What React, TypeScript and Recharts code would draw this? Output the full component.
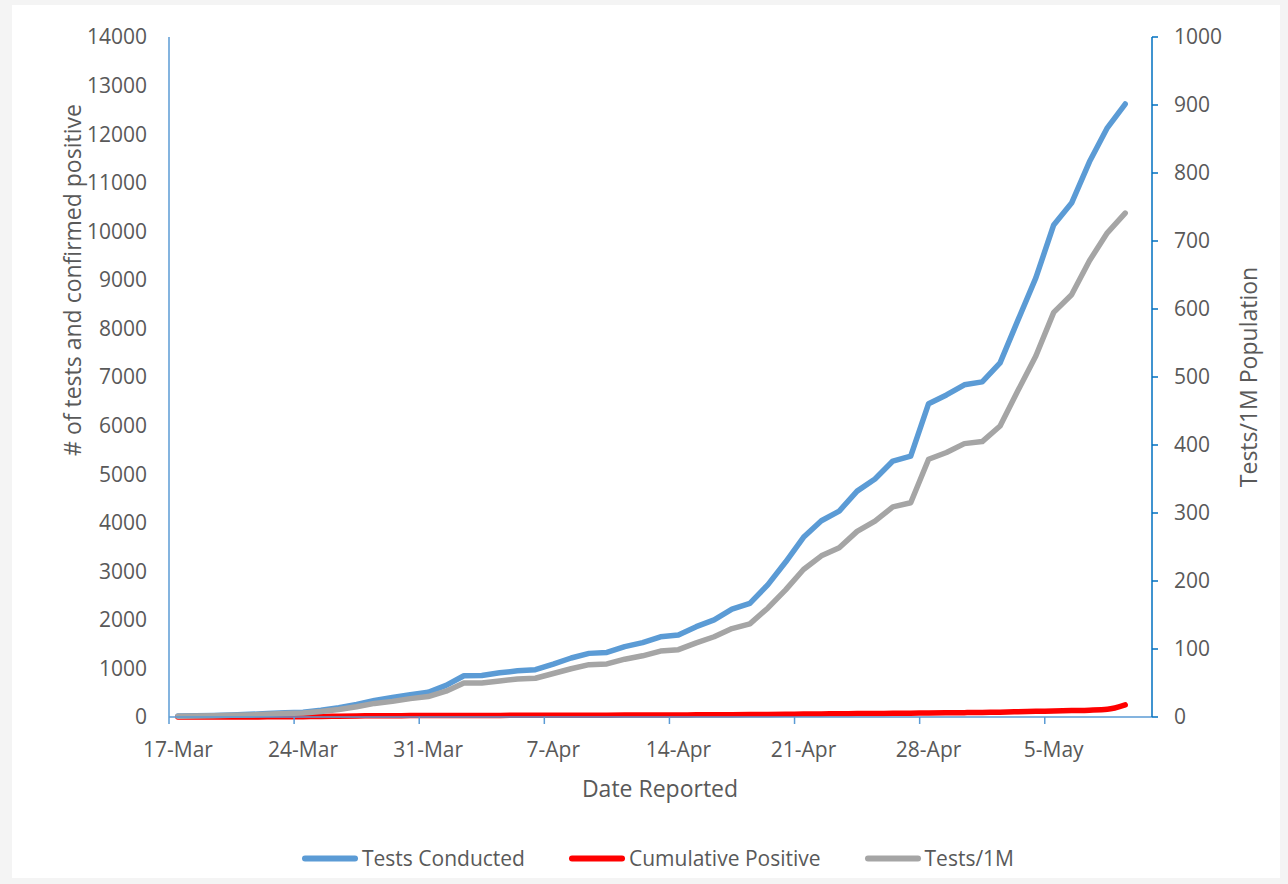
import React from 'react';
import { LineChart, Line, XAxis, YAxis } from 'recharts';

const dates = [
  '17-Mar','18-Mar','19-Mar','20-Mar','21-Mar','22-Mar','23-Mar','24-Mar','25-Mar','26-Mar',
  '27-Mar','28-Mar','29-Mar','30-Mar','31-Mar','1-Apr','2-Apr','3-Apr','4-Apr','5-Apr',
  '6-Apr','7-Apr','8-Apr','9-Apr','10-Apr','11-Apr','12-Apr','13-Apr','14-Apr','15-Apr',
  '16-Apr','17-Apr','18-Apr','19-Apr','20-Apr','21-Apr','22-Apr','23-Apr','24-Apr','25-Apr',
  '26-Apr','27-Apr','28-Apr','29-Apr','30-Apr','1-May','2-May','3-May','4-May','5-May',
  '6-May','7-May','8-May','9-May','10-May',
];

const testsConducted = [
  20, 25, 30, 40, 55, 70, 85, 100, 140, 190,
  260, 340, 400, 460, 510, 650, 850, 855, 910, 950,
  975, 1090, 1215, 1310, 1330, 1450, 1530, 1650, 1690, 1860,
  2000, 2220, 2340, 2720, 3190, 3700, 4040, 4240, 4650, 4900,
  5270, 5370, 6450, 6630, 6840, 6900, 7290, 8170, 9040, 10130,
  10580, 11430, 12130, 12620,
];

const cumulativePositive = [
  1, 1, 1, 1, 2, 3, 4, 6, 12, 18,
  22, 25, 27, 29, 30, 31, 32, 32, 33, 34,
  34, 35, 36, 37, 38, 39, 40, 41, 42, 44,
  46, 48, 50, 53, 56, 60, 64, 67, 70, 73,
  76, 79, 82, 86, 90, 95, 100, 108, 116, 124,
  132, 140, 158, 250,
];

const testsPer1M = [
  1, 1.5, 2, 2.5, 3, 4, 5, 6, 8, 11,
  15, 20, 23, 27, 30, 38, 50, 50, 53, 56,
  57, 64, 71, 77, 78, 85, 90, 97, 99, 109,
  118, 130, 137, 160, 187, 217, 237, 249, 273, 288,
  309, 315, 379, 389, 402, 405, 428, 480, 531, 595,
  621, 671, 712, 741,
];

const leftTicks = [0, 1000, 2000, 3000, 4000, 5000, 6000, 7000, 8000, 9000, 10000, 11000, 12000, 13000, 14000];
const rightTicks = [0, 100, 200, 300, 400, 500, 600, 700, 800, 900, 1000];

const data = dates.map((d, i) => ({
  date: d,
  tests: i < testsConducted.length ? testsConducted[i] : null,
  positive: i < cumulativePositive.length ? cumulativePositive[i] : null,
  per1m: i < testsPer1M.length ? testsPer1M[i] : null,
}));

const FONT = '"Open Sans", sans-serif';
const TEXT = '#595959';
const BLUE = '#5B9BD5';
const DARKBLUE = '#0070C0';
const RED = '#FF0000';
const GRAY = '#A5A5A5';

const W = 1288;
const H = 884;
const PLOT_LEFT = 169;
const PLOT_RIGHT = 1152;
const SLOT = (PLOT_RIGHT - PLOT_LEFT) / dates.length;

const DateTick = (props: any) => {
  const { x, y, payload } = props;
  return (
    <g>
      <line x1={x - SLOT / 2} x2={x - SLOT / 2} y1={y} y2={y + 7} stroke={BLUE} strokeWidth={1.5} />
      <text x={x} y={y + 40} textAnchor="middle" fill={TEXT} fontSize={21} fontFamily={FONT}>
        {payload.value}
      </text>
    </g>
  );
};

const legendItems = [
  { label: 'Tests Conducted', color: BLUE },
  { label: 'Cumulative Positive', color: RED },
  { label: 'Tests/1M', color: GRAY },
];

export default function App() {
  return (
    <div style={{ position: 'absolute', left: 0, top: 0, width: W, height: H, background: '#f4f4f4', overflow: 'hidden' }}>
      <div style={{ position: 'absolute', left: 12, top: 5, width: 1268, height: 873, background: '#ffffff' }} />
      <div style={{ position: 'absolute', left: 0, top: 0 }}>
        <LineChart
          width={W}
          height={H}
          data={data}
          margin={{ top: 37, right: 0, bottom: 107, left: 0 }}
        >
          <XAxis
            dataKey="date"
            interval={6}
            padding={{ left: SLOT / 2, right: SLOT / 2 }}
            axisLine={{ stroke: BLUE, strokeWidth: 1.5 }}
            tickLine={false}
            tickSize={0}
            tickMargin={0}
            height={60}
            tick={<DateTick />}
          />
          <YAxis
            yAxisId="left"
            orientation="left"
            width={PLOT_LEFT}
            domain={[0, 14000]}
            ticks={leftTicks}
            interval={0}
            axisLine={{ stroke: BLUE, strokeWidth: 1.5 }}
            tickLine={false}
            tickSize={0}
            tickMargin={22}
            tick={{ fill: TEXT, fontSize: 21, fontFamily: FONT }}
          />
          <YAxis
            yAxisId="right"
            orientation="right"
            width={W - PLOT_RIGHT}
            domain={[0, 1000]}
            ticks={rightTicks}
            interval={0}
            axisLine={{ stroke: DARKBLUE, strokeWidth: 1.5 }}
            tickLine={{ stroke: DARKBLUE, strokeWidth: 1.5 }}
            tickSize={6}
            tickMargin={16}
            tick={{ fill: TEXT, fontSize: 21, fontFamily: FONT, textAnchor: 'start' }}
          />
          <Line
            yAxisId="left"
            dataKey="tests"
            name="Tests Conducted"
            stroke={BLUE}
            strokeWidth={5.5}
            strokeLinejoin="round"
            strokeLinecap="round"
            dot={false}
            type="linear"
            isAnimationActive={false}
          />
          <Line
            yAxisId="left"
            dataKey="positive"
            name="Cumulative Positive"
            stroke={RED}
            strokeWidth={5.5}
            strokeLinejoin="round"
            strokeLinecap="round"
            dot={false}
            type="monotone"
            isAnimationActive={false}
          />
          <Line
            yAxisId="right"
            dataKey="per1m"
            name="Tests/1M"
            stroke={GRAY}
            strokeWidth={5.5}
            strokeLinejoin="round"
            strokeLinecap="round"
            dot={false}
            type="linear"
            isAnimationActive={false}
          />
        </LineChart>
      </div>
      <div
        style={{
          position: 'absolute',
          left: 72,
          top: 280,
          transform: 'translate(-50%, -50%) rotate(-90deg)',
          whiteSpace: 'nowrap',
          fontFamily: FONT,
          fontSize: 23,
          color: TEXT,
          lineHeight: 1,
        }}
      >
        # of tests and confirmed positive
      </div>
      <div
        style={{
          position: 'absolute',
          left: 1248,
          top: 377,
          transform: 'translate(-50%, -50%) rotate(-90deg)',
          whiteSpace: 'nowrap',
          fontFamily: FONT,
          fontSize: 23,
          color: TEXT,
          lineHeight: 1,
        }}
      >
        Tests/1M Population
      </div>
      <div
        style={{
          position: 'absolute',
          left: 660,
          top: 788,
          transform: 'translate(-50%, -50%)',
          whiteSpace: 'nowrap',
          fontFamily: FONT,
          fontSize: 23,
          color: TEXT,
          lineHeight: 1,
        }}
      >
        Date Reported
      </div>
      <div
        style={{
          position: 'absolute',
          left: 302,
          top: 858,
          transform: 'translateY(-50%)',
          display: 'flex',
          alignItems: 'center',
          gap: 44,
          fontFamily: FONT,
          fontSize: 21,
          color: TEXT,
          whiteSpace: 'nowrap',
          lineHeight: 1,
        }}
      >
        {legendItems.map((it) => (
          <div key={it.label} style={{ display: 'flex', alignItems: 'center', gap: 4 }}>
            <div style={{ width: 56, height: 6, borderRadius: 3, background: it.color }} />
            <span>{it.label}</span>
          </div>
        ))}
      </div>
    </div>
  );
}
